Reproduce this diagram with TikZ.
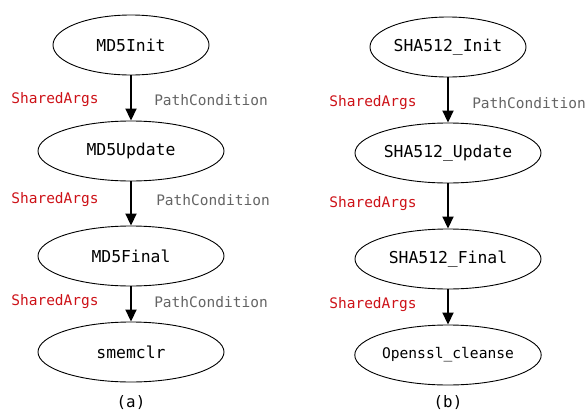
\documentclass[tikz,border=0pt]{standalone}
\usepackage{fontspec}
\setmonofont{DejaVu Sans Mono}
\usetikzlibrary{shapes.geometric,arrows.meta}
\definecolor{argred}{RGB}{205,18,24}
\definecolor{condgray}{RGB}{100,100,100}
\tikzset{
  fn/.style={ellipse,draw,line width=0.9pt,inner sep=0pt,minimum height=60pt,
             font=\fontsize{16.4}{18}\ttfamily},
  fnwide/.style={fn,minimum width=186pt},
  fnnarrow/.style={fn,minimum width=156pt},
  flow/.style={line width=1.8pt,-{Triangle[width=11pt,length=12pt]}},
  args/.style={text=argred,font=\fontsize{14.5}{16}\ttfamily,inner sep=0pt},
  cond/.style={text=condgray,font=\fontsize{14.5}{16}\ttfamily,inner sep=0pt},
  caption/.style={font=\fontsize{15.8}{18}\ttfamily,inner sep=0pt}
}
\begin{document}
\begin{tikzpicture}[x=1pt,y=-1pt]
\useasboundingbox (0,0) rectangle (587,413);
% (a) MD5 call chain
\node[fnnarrow] (md5init) at (131,45) {MD5Init};
\node[fnwide] (md5update) at (131,151) {MD5Update};
\node[fnwide] (md5final) at (131,256) {MD5Final};
\node[fnwide] (smemclr) at (131,352) {smemclr};
\node[caption] (capa) at (131,403) {(a)};
\draw[flow] (md5init) -- (md5update);
\draw[flow] (md5update) -- (md5final);
\draw[flow] (md5final) -- (smemclr);
\node[args] (a1) at (55,100) {SharedArgs};
\node[cond] (c1) at (211,100) {PathCondition};
\node[args] (a2) at (55,200) {SharedArgs};
\node[cond] (c2) at (213,200) {PathCondition};
\node[args] (a3) at (55,302) {SharedArgs};
\node[cond] (c3) at (211,302) {PathCondition};
% (b) SHA512 call chain
\node[fnnarrow] (shainit) at (448,47) {SHA512\_Init};
\node[fnwide] (shaupdate) at (448,153) {SHA512\_Update};
\node[fnwide] (shafinal) at (448,259) {SHA512\_Final};
\node[fnwide,font=\fontsize{14.6}{16}\ttfamily] (cleanse) at (448,355) {Openssl\_cleanse};
\node[caption] (capb) at (448,403) {(b)};
\draw[flow] (shainit) -- (shaupdate);
\draw[flow] (shaupdate) -- (shafinal);
\draw[flow] (shafinal) -- (cleanse);
\node[args] (b1) at (373,103) {SharedArgs};
\node[cond] (d1) at (529,103) {PathCondition};
\node[args] (b2) at (373,204) {SharedArgs};
\node[args] (b3) at (373,305) {SharedArgs};
\end{tikzpicture}
\end{document}
